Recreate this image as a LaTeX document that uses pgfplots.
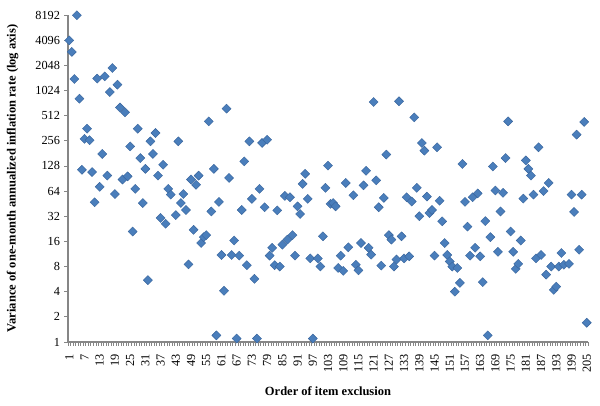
\documentclass[border=0pt]{standalone}
\usepackage{fontspec}
\setmainfont{Liberation Serif}
\usepackage{pgfplots}
\pgfplotsset{compat=1.18}
\definecolor{mk}{RGB}{74,126,187}
\definecolor{mkd}{RGB}{56,100,156}
\definecolor{ax}{RGB}{134,134,134}
\begin{document}
\begin{tikzpicture}
\useasboundingbox (-68pt,-64pt) rectangle (532pt,342pt);
\begin{axis}[
  at={(0,0)}, anchor=south west,
  scale only axis, width=520pt, height=327pt,
  xmin=0.5, xmax=205.5,
  ymode=log, log basis y=2, ymin=1, ymax=8192,
  axis lines*=left,
  axis line style={draw=ax, line width=1.1pt, -},
  tick align=outside,
  ytick={1,2,4,8,16,32,64,128,256,512,1024,2048,4096,8192},
  yticklabels={1,2,4,8,16,32,64,128,256,512,1024,2048,4096,8192},
  yminorticks=false,
  xtick={1,7,...,205},
  minor xtick={0.5,1.5,...,205.5},
  major x tick style={draw=none},
  minor x tick style={draw=ax, line width=0.8pt},
  minor tick length=4pt,
  major tick length=3.5pt,
  y tick style={draw=ax, line width=0.8pt},
  /pgf/number format/assume math mode=true,
  tick label style={font=\fontsize{12.3}{14}\selectfont},
  xticklabel style={rotate=90, anchor=east},
  xticklabel shift=5pt,
  yticklabel shift=1pt,
  every axis y label/.style={at={(axis description cs:-0.1067,0.5)}, rotate=90, anchor=center},
  every axis x label/.style={at={(axis description cs:0.5,-0.149)}, anchor=center},
  ylabel={Variance of one-month annualized inflation rate (log axis)},
  xlabel={Order of item exclusion},
  label style={font=\bfseries\fontsize{12.5}{14}\selectfont},
]
\addplot[only marks, mark=square*, mark size=3.2pt,
  mark options={rotate=45, fill=mk, draw=mkd, line width=0.4pt}] table {
x y
1 4070
2 2960
3 1405
4 8130
5 816
6 115
7 270
8 357
9 260
10 108
11 47
12 1420
13 72
14 178
15 1510
16 98
17 980
18 1900
19 59
20 1200
21 640
22 88
23 560
24 96
25 219
26 21
27 68
28 357
29 159
30 46
31 118
32 5.5
33 252
34 178
35 317
36 98
37 30.5
38 132
39 26
40 68
41 58
43 33
44 252
45 46
46 59
47 38
48 8.5
49 88
50 22
51 76
52 98
53 15.3
54 18
55 19
56 437
57 36.5
58 118
59 1.2
60 47.5
61 11
62 4.1
63 620
64 92
65 11
66 16.4
67 1.1
68 10.8
69 38
70 145
71 8.3
72 252
73 51.6
74 5.7
75 1.1
76 68
77 241
78 41
79 263
80 10.8
81 13.4
82 8.3
83 37.6
84 8
85 14.6
86 56
87 16.8
88 54
89 19
90 10.8
91 42
92 34
93 78
94 103
95 51.6
96 10
97 1.1
99 10
100 8
101 18.4
102 70
103 129
104 45
105 46
106 42
107 7.7
108 10.8
109 7.1
110 80
111 13.6
113 57
114 8.4
115 7.2
116 15.3
117 75
118 112
119 13.4
120 11.1
121 745
122 86
123 41
124 8.2
125 53
126 175
127 19
128 16.8
129 8
130 9.7
131 760
132 18.4
133 10
134 54
135 10.6
136 48
137 488
138 70
139 32
140 241
141 195
142 55
143 35
144 38
145 10.8
146 214
147 49
148 27.8
149 15.3
150 11
151 9.2
152 8
153 4.0
154 7.7
155 5.1
156 135
157 47.5
158 24
159 10.8
160 54
161 13.4
162 60
163 10.6
164 5.2
165 28
166 1.2
167 18
168 126
169 65
170 12
171 36.5
172 61
173 159
174 437
175 21
176 12
177 7.5
178 8.6
179 16.4
180 52
181 149
182 118
183 98
184 58
185 10
186 214
187 11
188 64
189 6.4
190 80
191 8
192 4.2
193 4.6
194 8
195 11.6
196 8.4
198 8.6
199 58
200 36
201 303
202 12.7
203 58
204 430
205 1.7
};
\end{axis}
\end{tikzpicture}
\end{document}
